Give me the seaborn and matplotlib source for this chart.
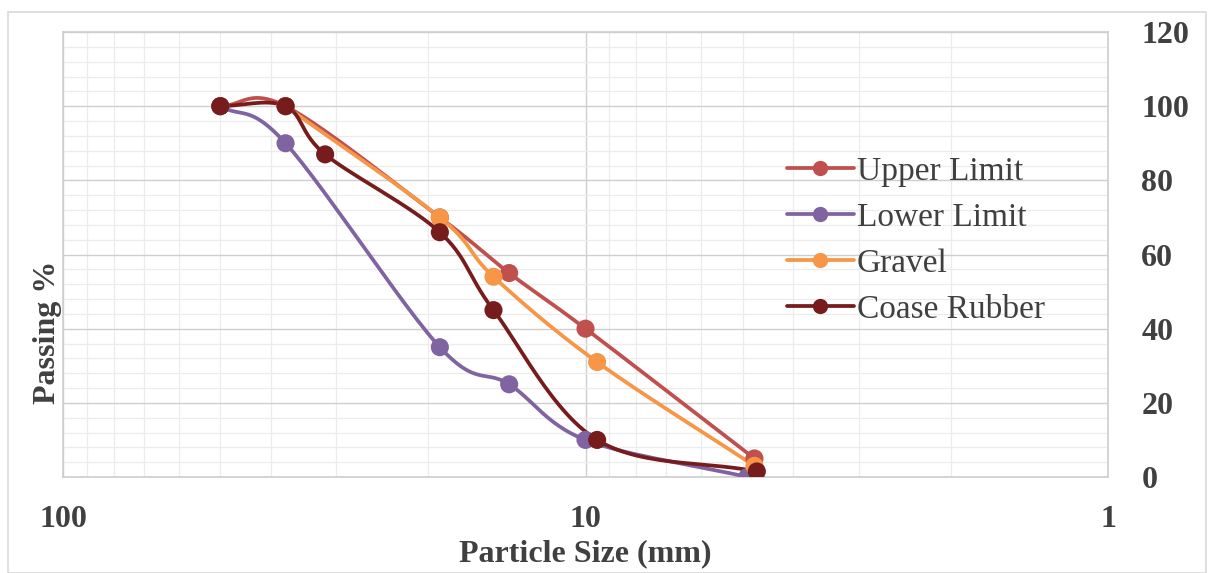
import numpy as np
import pandas as pd
import matplotlib
matplotlib.use("Agg")
import matplotlib.pyplot as plt
from matplotlib.lines import Line2D
from matplotlib.patches import Rectangle
import matplotlib.ticker as mticker
import seaborn as sns

sns.set_theme(style="white")
plt.rcParams['font.family'] = ['Liberation Serif', 'DejaVu Serif']

# ---- data ----
upper_size = [50, 37.5, 19, 14, 10, 4.75]
upper_pass = [100, 100, 70, 55, 40, 5]
lower_size = [50, 37.5, 19, 14, 10, 4.9]
lower_pass = [100, 90, 35, 25, 10, 0]
gravel_size = [37.5, 19, 15, 9.5, 4.75]
gravel_pass = [100, 70, 54, 31, 3]
rubber_size = [50, 37.5, 31.5, 19, 15, 9.5, 4.7]
rubber_pass = [100, 100, 87, 66, 45, 10, 1.5]

series_names = ["Upper Limit", "Lower Limit", "Gravel", "Coase Rubber"]
series_colors = ["#C0504D", "#8064A2", "#F79646", "#761C1C"]
x_ticks = [100, 10, 1]
y_ticks = [0, 20, 40, 60, 80, 100, 120]

series = [(upper_size, upper_pass), (lower_size, lower_pass),
          (gravel_size, gravel_pass), (rubber_size, rubber_pass)]

frames = []
for name, (xs, ys) in zip(series_names, series):
    frames.append(pd.DataFrame({"size": xs, "passing": ys, "series": name}))
df = pd.concat(frames, ignore_index=True)


def smooth(xs, ys, n=30):
    """Catmull-Rom rendering of the line in log-x space (drawing only)."""
    lx = np.log10(np.asarray(xs, float))
    y = np.asarray(ys, float)
    P = np.column_stack([lx, y])
    P = np.vstack([P[0] - (P[1] - P[0]), P, P[-1] + (P[-1] - P[-2])])
    out = []
    for i in range(1, len(P) - 2):
        p0, p1, p2, p3 = P[i - 1], P[i], P[i + 1], P[i + 2]
        t = np.linspace(0, 1, n)[:, None]
        c = 0.5 * ((2 * p1) + (-p0 + p2) * t + (2 * p0 - 5 * p1 + 4 * p2 - p3) * t ** 2
                   + (-p0 + 3 * p1 - 3 * p2 + p3) * t ** 3)
        out.append(c)
    c = np.vstack(out)
    return 10 ** c[:, 0], c[:, 1]


TXT = "#404040"
fig = plt.figure(figsize=(12.08, 5.73), dpi=100)
ax = fig.add_axes([63 / 1208, 96 / 573, 1045 / 1208, 445 / 573])

ax.set_xscale("log")
ax.set_xlim(100, 1)
ax.set_ylim(0, 120)

# grid
ax.set_yticks(y_ticks)
ax.yaxis.set_minor_locator(mticker.MultipleLocator(4))
ax.xaxis.set_major_locator(mticker.FixedLocator(x_ticks))
ax.xaxis.set_minor_locator(mticker.LogLocator(base=10, subs=np.arange(2, 10)))
ax.xaxis.set_minor_formatter(mticker.NullFormatter())
ax.set_xticklabels([str(v) for v in x_ticks])
ax.grid(which="major", color="#CFCFCF", linewidth=1.0)
ax.grid(which="minor", color="#ECECEC", linewidth=0.9)
ax.set_axisbelow(True)
for s in ax.spines.values():
    s.set_visible(True)
    s.set_color("#CFCFCF")

for name, color, (xs, ys) in zip(series_names, series_colors, series):
    sx, sy = smooth(xs, ys)
    ax.plot(sx, sy, color=color, linewidth=2.7, zorder=3)

sns.scatterplot(data=df, x="size", y="passing", hue="series", palette=series_colors,
                hue_order=series_names, s=170, edgecolor="none", legend=False,
                ax=ax, zorder=4)

ax.yaxis.tick_right()
ax.tick_params(axis="both", which="both", length=0)
ax.tick_params(axis="y", pad=24, labelsize=23, labelcolor=TXT)
ax.tick_params(axis="x", pad=20, labelsize=23, labelcolor=TXT)
for lab in ax.get_xticklabels() + ax.get_yticklabels():
    lab.set_fontweight("bold")

ax.set_xlabel("Particle Size (mm)", fontsize=23, fontweight="bold", color=TXT, labelpad=4)
ax.set_ylabel("")
fig.text(47 / 1208, 1 - 332 / 573, "Passing %", rotation=90, ha="center", va="center",
         fontsize=23, fontweight="bold", color=TXT)

handles = [Line2D([0], [0], color=c, linewidth=2.7, marker="o", markersize=11,
                  markeredgecolor="none") for c in series_colors]
leg = ax.legend(handles, series_names, loc="upper left", bbox_to_anchor=(0.68, 0.75),
                frameon=False, fontsize=24, handlelength=2.0, handletextpad=0.1,
                labelspacing=0.46, labelcolor=TXT, borderaxespad=0)

fig.patches.append(Rectangle((8 / 1208, 0), 1198 / 1208, 561 / 573, transform=fig.transFigure,
                             fill=False, edgecolor="#D9D9D9", linewidth=1.2))

fig.savefig("out.png", dpi=100)
